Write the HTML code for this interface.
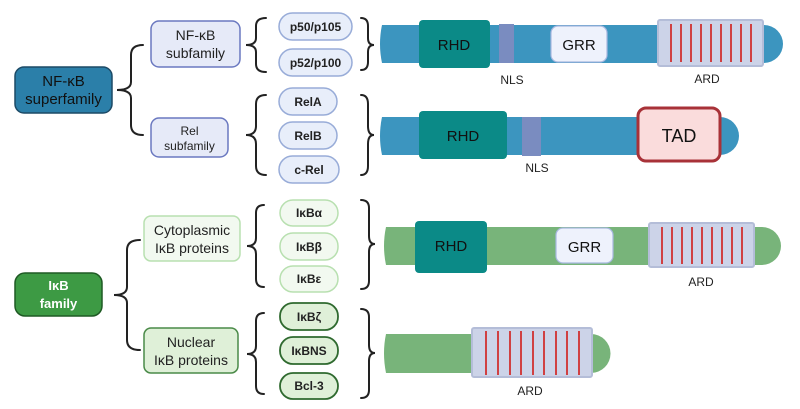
<!DOCTYPE html>
<html><head><meta charset="utf-8"><style>
html,body{margin:0;padding:0;background:#fff;}
svg{display:block;font-family:"Liberation Sans",sans-serif;}
</style></head><body>
<svg width="800" height="409" viewBox="0 0 800 409" xmlns="http://www.w3.org/2000/svg">
<defs>
<g id="lines"></g>
</defs>
<g fill="none" stroke="#222" stroke-width="2" stroke-linecap="round">
<!-- superfamily brace -->
<path d="M143 45 Q131 45 131 55 L131 82 Q131 90 117 90 Q131 90 131 98 L131 125 Q131 135 143 135"/>
<path d="M266 18 Q256 18 256 26 L256 38 Q256 45 246 45 Q256 45 256 52 L256 64 Q256 72 266 72"/>
<path d="M266 95 Q256 95 256 104 L256 126 Q256 135 246 135 Q256 135 256 144 L256 166 Q256 175 266 175"/>
<path d="M361 18 Q368 18 368 26 L368 38 Q368 45 374 45 Q368 45 368 52 L368 62 Q368 70 361 70"/>
<path d="M361 95 Q368 95 368 104 L368 126 Q368 135 374 135 Q368 135 368 144 L368 166 Q368 175 361 175"/>
<!-- IkB -->
<path d="M140 240 Q127 240 127 250 L127 287 Q127 295 114 295 Q127 295 127 303 L127 340 Q127 350 140 350"/>
<path d="M264 205 Q256 205 256 213 L256 238 Q256 246 247 246 Q256 246 256 254 L256 279 Q256 287 264 287"/>
<path d="M264 313 Q256 313 256 321 L256 346 Q256 354 247 354 Q256 354 256 362 L256 386 Q256 394 264 394"/>
<path d="M361 200 Q369 200 369 208 L369 236 Q369 244 375 244 Q369 244 369 252 L369 281 Q369 289 361 289"/>
<path d="M361 309 Q369 309 369 317 L369 345 Q369 353 375 353 Q369 353 369 361 L369 390 Q369 398 361 398"/>
</g>
<!-- left boxes -->
<rect x="15" y="67" width="97" height="46" rx="9" fill="#2b7fa9" stroke="#1c4a66" stroke-width="1.5"/>
<text x="63.5" y="86" font-size="15" text-anchor="middle" fill="#111">NF-κB</text>
<text x="63.5" y="104" font-size="15" text-anchor="middle" fill="#111">superfamily</text>
<rect x="151" y="21" width="89" height="46" rx="8" fill="#e6eaf8" stroke="#6a78c0" stroke-width="1.5"/>
<text x="195.5" y="40" font-size="14" text-anchor="middle" fill="#222">NF-κB</text>
<text x="195.5" y="58" font-size="14" text-anchor="middle" fill="#222">subfamily</text>
<rect x="151" y="118" width="77" height="39" rx="8" fill="#e6eaf8" stroke="#6a78c0" stroke-width="1.5"/>
<text x="189.5" y="135" font-size="12" text-anchor="middle" fill="#222">Rel</text>
<text x="189.5" y="150" font-size="12" text-anchor="middle" fill="#222">subfamily</text>
<g fill="#e8eefa" stroke="#98acd8" stroke-width="1.5">
<rect x="279" y="13" width="73" height="27" rx="13.5"/>
<rect x="279" y="49" width="73" height="27" rx="13.5"/>
<rect x="279" y="88" width="58" height="27" rx="13.5"/>
<rect x="279" y="122" width="58" height="27" rx="13.5"/>
<rect x="279" y="156" width="60" height="27" rx="13.5"/>
</g>
<g font-size="12" font-weight="bold" text-anchor="middle" fill="#222">
<text x="315.5" y="31">p50/p105</text>
<text x="315.5" y="67">p52/p100</text>
<text x="308" y="106">RelA</text>
<text x="308" y="140">RelB</text>
<text x="309" y="174">c-Rel</text>
</g>
<rect x="15" y="273" width="87" height="43" rx="10" fill="#3d9a44" stroke="#1f5a24" stroke-width="1.5"/>
<text x="58.5" y="290" font-size="13" font-weight="bold" text-anchor="middle" fill="#fff">IκB</text>
<text x="58.5" y="308" font-size="13" font-weight="bold" text-anchor="middle" fill="#fff">family</text>
<rect x="144" y="216" width="96" height="45" rx="7" fill="#f2f9f0" stroke="#b8e0b0" stroke-width="1.5"/>
<text x="192" y="235" font-size="14" text-anchor="middle" fill="#222">Cytoplasmic</text>
<text x="192" y="253" font-size="14" text-anchor="middle" fill="#222">IκB proteins</text>
<rect x="144" y="328" width="94" height="45" rx="7" fill="#dff0d8" stroke="#4a8a48" stroke-width="1.5"/>
<text x="191" y="347" font-size="14" text-anchor="middle" fill="#222">Nuclear</text>
<text x="191" y="365" font-size="14" text-anchor="middle" fill="#222">IκB proteins</text>
<g fill="#f2f9f0" stroke="#b8e0b0" stroke-width="1.5">
<rect x="280" y="200" width="58" height="26" rx="13"/>
<rect x="280" y="233" width="58" height="27" rx="13"/>
<rect x="280" y="266" width="58" height="26" rx="13"/>
</g>
<g fill="#dff0d8" stroke="#2f6a2f" stroke-width="1.8">
<rect x="280" y="303" width="58" height="27" rx="13"/>
<rect x="280" y="337" width="58" height="27" rx="13"/>
<rect x="280" y="373" width="58" height="26" rx="13"/>
</g>
<g font-size="12" font-weight="bold" text-anchor="middle" fill="#222">
<text x="309" y="217">IκBα</text>
<text x="309" y="251">IκBβ</text>
<text x="309" y="283">IκBε</text>
<text x="309" y="321">IκBζ</text>
<text x="309" y="355">IκBNS</text>
<text x="309" y="390">Bcl-3</text>
</g>
<!-- protein 1 -->
<path d="M382 25 L764 25 A19 19 0 0 1 764 63 L382 63 Q378 44 382 25Z" fill="#3c95bf"/>
<rect x="419" y="20" width="71" height="48" rx="4" fill="#0b8a87"/>
<text x="454" y="50" font-size="15" text-anchor="middle" fill="#111">RHD</text>
<rect x="499" y="24" width="15" height="39" fill="#7a8cc0"/>
<text x="512" y="84" font-size="12" text-anchor="middle" fill="#222">NLS</text>
<rect x="551" y="26" width="56" height="36" rx="7" fill="#eef2fc" stroke="#a8b8e0" stroke-width="1.2"/>
<text x="579" y="50" font-size="15" text-anchor="middle" fill="#111">GRR</text>
<rect x="658" y="20" width="105" height="46" rx="2" fill="#ccd3e8" stroke="#b4bdd8" stroke-width="2"/>
<g stroke="#d03030" stroke-width="1.8"><path d="M671 24V62M681 24V62M691 24V62M701 24V62M711 24V62M721 24V62M731 24V62M741 24V62M751 24V62"/></g>
<text x="707" y="83" font-size="12" text-anchor="middle" fill="#222">ARD</text>
<!-- protein 2 -->
<path d="M382 117 L720 117 A19 19 0 0 1 720 155 L382 155 Q378 136 382 117Z" fill="#3c95bf"/>
<rect x="419" y="111" width="88" height="48" rx="4" fill="#0b8a87"/>
<text x="463" y="141" font-size="15" text-anchor="middle" fill="#111">RHD</text>
<rect x="522" y="117" width="19" height="39" fill="#7a8cc0"/>
<text x="537" y="172" font-size="12" text-anchor="middle" fill="#222">NLS</text>
<rect x="638" y="108" width="82" height="53" rx="8" fill="#fadcdc" stroke="#a83238" stroke-width="3"/>
<text x="679" y="142" font-size="18" text-anchor="middle" fill="#111">TAD</text>
<!-- protein 3 -->
<path d="M386 227 L762 227 A19 19 0 0 1 762 265 L386 265 Q382 246 386 227Z" fill="#78b47a"/>
<rect x="415" y="221" width="72" height="52" rx="4" fill="#0b8a87"/>
<text x="451" y="251" font-size="15" text-anchor="middle" fill="#111">RHD</text>
<rect x="556" y="228" width="57" height="35" rx="7" fill="#eef2fc" stroke="#a8b8e0" stroke-width="1.2"/>
<text x="584.5" y="252" font-size="15" text-anchor="middle" fill="#111">GRR</text>
<rect x="649" y="223" width="105" height="44" rx="2" fill="#ccd3e8" stroke="#b4bdd8" stroke-width="2"/>
<g stroke="#d03030" stroke-width="1.8"><path d="M662 227V264M672 227V264M682 227V264M692 227V264M702 227V264M712 227V264M722 227V264M732 227V264M742 227V264"/></g>
<text x="701" y="286" font-size="12" text-anchor="middle" fill="#222">ARD</text>
<!-- protein 4 -->
<path d="M386 334 L591 334 A19 19 0 0 1 591 373 L386 373 Q382 353 386 334Z" fill="#78b47a"/>
<rect x="472" y="328" width="120" height="49" rx="2" fill="#ccd3e8" stroke="#b4bdd8" stroke-width="2"/>
<g stroke="#d03030" stroke-width="1.8"><path d="M486 331V375M498 331V375M510 331V375M521 331V375M533 331V375M544 331V375M556 331V375M567 331V375M579 331V375"/></g>
<text x="530" y="395" font-size="12" text-anchor="middle" fill="#222">ARD</text>
</svg>
</body></html>
